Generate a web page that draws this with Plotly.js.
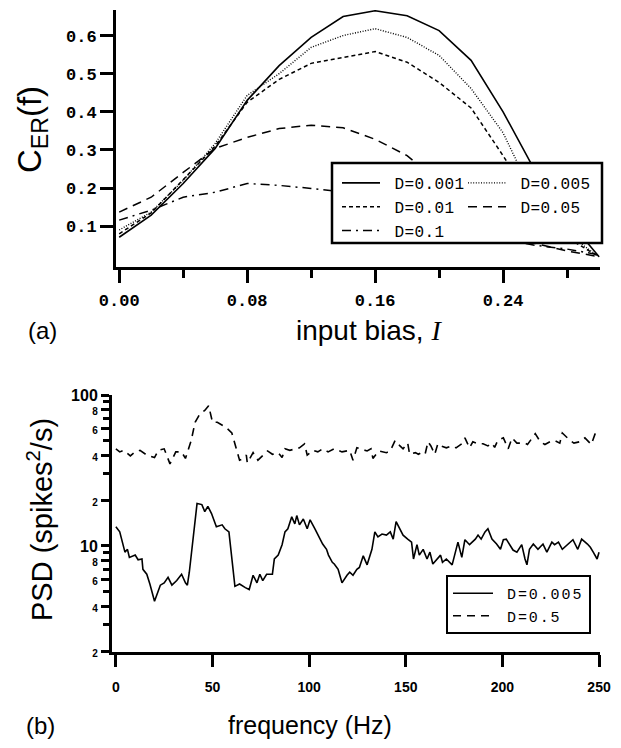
<!DOCTYPE html>
<html>
<head>
<meta charset="utf-8">
<script src="https://cdn.plot.ly/plotly-3.0.1.min.js"></script>
<style>html,body{margin:0;padding:0;background:#fff;}#chart{width:621px;height:748px;}</style>
</head>
<body>
<div id="chart"></div>
<script>
// ---------- Panel (a) data ----------
const biasI = [0.00,0.02,0.04,0.06,0.08,0.10,0.12,0.14,0.16,0.18,0.20,0.22,0.24,0.26,0.28,0.30];
const cerD0001 = [0.071,0.129,0.212,0.304,0.430,0.521,0.595,0.650,0.665,0.652,0.613,0.535,0.400,0.245,0.120,0.020];
const cerD0005 = [0.090,0.137,0.220,0.317,0.443,0.500,0.569,0.600,0.618,0.595,0.548,0.461,0.345,0.170,0.080,0.020];
const cerD001  = [0.080,0.135,0.222,0.310,0.425,0.485,0.527,0.542,0.558,0.530,0.477,0.410,0.285,0.150,0.070,0.020];
const cerD005  = [0.137,0.176,0.241,0.304,0.333,0.356,0.365,0.358,0.328,0.285,0.215,0.150,0.090,0.055,0.035,0.020];
const cerD01   = [0.116,0.142,0.176,0.189,0.212,0.207,0.199,0.190,0.170,0.150,0.120,0.090,0.065,0.050,0.040,0.025];
const labelsA = ["D=0.001","D=0.005","D=0.01","D=0.05","D=0.1"];
const xTicksA = [0.00,0.08,0.16,0.24];
const xTickTextA = ["0.00","0.08","0.16","0.24"];
const xMinorA = [0.04,0.12,0.20,0.28];
const yTicksA = [0.1,0.2,0.3,0.4,0.5,0.6];
const yTickTextA = ["0.1","0.2","0.3","0.4","0.5","0.6"];

// ---------- Panel (b) data ----------
const freqLow = [0,2,4.7,6,7,10,11.5,13.5,14,16,17.6,20,23,25,27,29,31.5,34,36,37,38,40,42,44.5,46,47.6,49.5,52,55,56.4,58.5,61.6,64,67,69,71,73,74.5,76,78,81,82,84,86,87.5,89,91,92.6,93.6,95,97,99,100.5,103,105.6,107,109,110,112,113,115,117,119.6,121,122.7,124.7,126,128,130,132.5,134,135.6,137.7,140,142,143.5,145,147,148.6,151,153,154,155.8,157,159,161,162.5,164,166,168,169,171,174,175.5,177,179,180.6,183,186,187.4,189,191,192.5,194.6,197,199,200.5,202,204,205.5,207.5,210,211.7,212.7,214,216,218.4,221,223,225.6,227,229,231,234,236.5,239,241,244,245.5,247,249,250];
const psdLow = [13.4,12.4,9.1,9.5,8.4,8.7,8.1,8.2,7.0,6.5,5.6,4.3,5.5,5.7,6.2,5.5,5.9,6.5,5.7,5.5,6.7,11.9,19.1,18.8,16.9,18.3,16.4,13.4,13.8,13.0,12.4,5.4,5.6,5.3,5.15,6.4,5.7,6.5,5.9,6.5,6.5,8.2,8.7,10.2,12.4,13.0,15.6,14.0,15.9,13.8,15.1,13.0,14.9,13.0,11.1,10.3,9.5,8.7,7.8,7.6,7.0,5.7,6.4,6.7,6.4,7.0,7.2,8.6,7.5,9.5,12.4,11.5,12.0,11.8,12.4,11.1,14.5,13.0,11.8,11.1,10.6,8.2,10.2,8.7,9.5,8.2,9.1,7.6,8.1,8.7,7.8,8.2,7.5,9.1,10.6,8.4,11.0,10.2,11.1,11.8,11.1,12.4,13.0,11.1,10.3,9.5,11.0,11.1,10.2,9.4,9.1,10.2,8.2,7.5,9.5,10.3,9.5,10.3,9.1,10.6,10.2,10.6,9.5,10.3,11.0,9.5,11.1,10.3,9.8,9.1,8.2,9.1];
const freqHigh = [0,2,4,7.5,10,12.5,16,20,22,25,28,31,34,36,39,41,43.5,46,48,50,52.5,57,60,62.5,64,66,67.5,68,71,73.5,76,78.5,81,84,86,87.5,90,92.6,95,97.6,99,102,104.5,107,109.8,113,117,121,122.7,124.7,130,132,133,136,140,142,144.5,147,148.6,151,152,155,156.5,158,160,161.5,163,165,166.6,168,171,173.5,176,179,180.6,183,184.7,187.4,190,192.5,194.6,196,197.6,200.5,203,205,207.5,211.7,213,217,219.6,222,224.6,227,229.7,231,233.5,235,237,240,242.7,246,248,249.5];
const psdHigh = [44,42,43,39.5,42,43,40,38.5,43,44,35,42,42,38,50,66,75,79,85,66,66,61,56,44,37,38,40,35.5,41.5,37,40,42.6,40.5,41.5,38.5,44,43,44,44.7,47.5,40,43,42,44,42,44,42,43,37,44.7,42.6,44,38,42.6,41.5,42.6,50,46,44,48,40.5,41.5,40.5,41.5,40.5,49,46,40.5,47.5,46,44.7,46,44.7,47.5,52,44.7,49,47.5,47.5,46,48,45,50,52,44,52,48,48,47,55.5,49,47,49,50,48,56,52,50,48,49,52,47,55.5,52];
const labelsB = ["D=0.005","D=0.5"];
const xTicksB = [0,50,100,150,200,250];
const yTicksB = [2,4,6,8,10,20,40,60,80,100];
const yTickTextB = ["2","4","6","8","10","2","4","6","8","100"];
const yMinorB = [3,5,7,9,30,50,70,90];

// ---------- helpers ----------
const W = 621, H = 748;
const px = v => v / W;
const py = v => 1 - v / H;
const NB = "\u00A0";
const monoBold = {family: "Liberation Mono, monospace", size: 17, color: "#000", weight: "bold"};
const legFont = {family: "Liberation Mono, monospace", size: 16, color: "#000"};
const spaced = (t, ls) => NB + "<span style='letter-spacing:" + ls + "px'>" + t + "</span>";

const styleA = [
  {dash: "solid", width: 1.6},
  {dash: "1px,1.6px", width: 1.4},
  {dash: "4px,3px", width: 1.5},
  {dash: "9px,6px", width: 1.5},
  {dash: "9px,5px,2px,5px", width: 1.5}
];
const seriesA = [cerD0001, cerD0005, cerD001, cerD005, cerD01];
const legendOf = ["legend", "legend2", "legend", "legend2", "legend"];

const traces = seriesA.map((ys, i) => ({
  type: "scatter", mode: "lines", x: biasI, y: ys, name: spaced(labelsA[i], 0.4),
  xaxis: "x", yaxis: "y", legend: legendOf[i],
  line: {color: "#000", width: styleA[i].width, dash: styleA[i].dash}
}));

const ttB = yTickTextB.map(t => (t === "10" || t === "100") ? t : "<span style='font-size:10px'>" + t + "</span>");

traces.push({
  type: "scatter", mode: "lines", x: freqLow, y: psdLow, name: spaced(labelsB[0], 1.9),
  xaxis: "x2", yaxis: "y2", legend: "legend3",
  line: {color: "#000", width: 1.6}
});
traces.push({
  type: "scatter", mode: "lines", x: freqHigh, y: psdHigh, name: spaced(labelsB[1], 1.9),
  xaxis: "x2", yaxis: "y2", legend: "legend3",
  line: {color: "#000", width: 1.6, dash: "8px,6px"}
});

const axisCommon = {
  showgrid: false, zeroline: false, showline: true, linecolor: "#000", linewidth: 3,
  ticks: "outside", tickcolor: "#000", tickwidth: 3, automargin: false, fixedrange: true
};

const legendBase = {
  bgcolor: "rgba(0,0,0,0)", borderwidth: 0, font: legFont, itemwidth: 38,
  xanchor: "left", yanchor: "top", tracegroupgap: 0, itemclick: false, itemdoubleclick: false
};

const layout = {
  width: W, height: H,
  margin: {l: 0, r: 0, t: 0, b: 0},
  paper_bgcolor: "#fff", plot_bgcolor: "rgba(0,0,0,0)",
  font: {family: "Liberation Sans, Arial, sans-serif", color: "#000"},
  xaxis: Object.assign({}, axisCommon, {
    domain: [px(116), px(600)], anchor: "y", range: [-0.002, 0.3006],
    tickmode: "array", tickvals: xTicksA, ticktext: xTickTextA, ticklen: 13,
    tickfont: monoBold, ticklabelstandoff: 3,
    minor: {tickmode: "array", tickvals: xMinorA, ticks: "outside", ticklen: 8, tickwidth: 3, tickcolor: "#000"}
  }),
  yaxis: Object.assign({}, axisCommon, {
    domain: [py(267), py(10)], anchor: "x", range: [-0.007, 0.667],
    tickmode: "array", tickvals: yTicksA, ticktext: yTickTextA, ticklen: 13,
    tickfont: monoBold
  }),
  xaxis2: Object.assign({}, axisCommon, {
    domain: [px(112), px(600)], anchor: "y2", range: [-2, 250.5],
    tickmode: "array", tickvals: xTicksB, ticklen: 12, ticklabelstandoff: 8,
    tickfont: {family: "Liberation Sans, Arial, sans-serif", size: 14, color: "#000", weight: "bold"}
  }),
  yaxis2: Object.assign({}, axisCommon, {
    type: "log", domain: [py(652), py(395)], anchor: "x2", range: [Math.log10(1.985), 2],
    tickmode: "array", tickvals: yTicksB, ticktext: ttB, ticklen: 8,
    tickfont: {family: "Liberation Sans, Arial, sans-serif", size: 16, color: "#000", weight: "bold"},
    minor: {tickmode: "array", tickvals: yMinorB, ticks: "outside", ticklen: 6, tickwidth: 3, tickcolor: "#000"}
  }),
  legend: Object.assign({}, legendBase, {x: px(337), y: py(166)}),
  legend2: Object.assign({}, legendBase, {x: px(463), y: py(166)}),
  legend3: Object.assign({}, legendBase, {x: px(446), y: py(575), itemwidth: 40,
    bgcolor: "#fff", bordercolor: "#000", borderwidth: 2,
    font: {family: "Liberation Mono, monospace", size: 15, color: "#000"}}),
  showlegend: true,
  shapes: [
    {type: "rect", xref: "paper", yref: "paper", x0: px(332), x1: px(602), y0: py(243), y1: py(163),
     fillcolor: "#fff", line: {color: "#000", width: 2.5}, layer: "above"}
  ],
  annotations: [
    {text: "(a)", x: px(42), y: py(330), xref: "paper", yref: "paper", showarrow: false,
     xanchor: "center", yanchor: "middle", font: {size: 24}},
    {text: "input bias, <span style='font-family:Liberation Serif;font-style:italic'>I</span>",
     x: px(369), y: py(330), xref: "paper", yref: "paper", showarrow: false,
     xanchor: "center", yanchor: "middle", font: {size: 28}},
    {text: "C<sub>ER</sub>(f)", x: px(32), y: py(130), xref: "paper", yref: "paper", showarrow: false,
     xanchor: "center", yanchor: "middle", textangle: -90, font: {size: 33}},
    {text: "(b)", x: px(40), y: py(725), xref: "paper", yref: "paper", showarrow: false,
     xanchor: "center", yanchor: "middle", font: {size: 24}},
    {text: "frequency (Hz)", x: px(310), y: py(725), xref: "paper", yref: "paper", showarrow: false,
     xanchor: "center", yanchor: "middle", font: {size: 25}},
    {text: "PSD (spikes<sup>2</sup>/s)", x: px(40), y: py(520), xref: "paper", yref: "paper", showarrow: false,
     xanchor: "center", yanchor: "middle", textangle: -90, font: {size: 29}}
  ]
};

Plotly.newPlot("chart", traces, layout, {displayModeBar: false, staticPlot: true});
</script>
</body>
</html>
